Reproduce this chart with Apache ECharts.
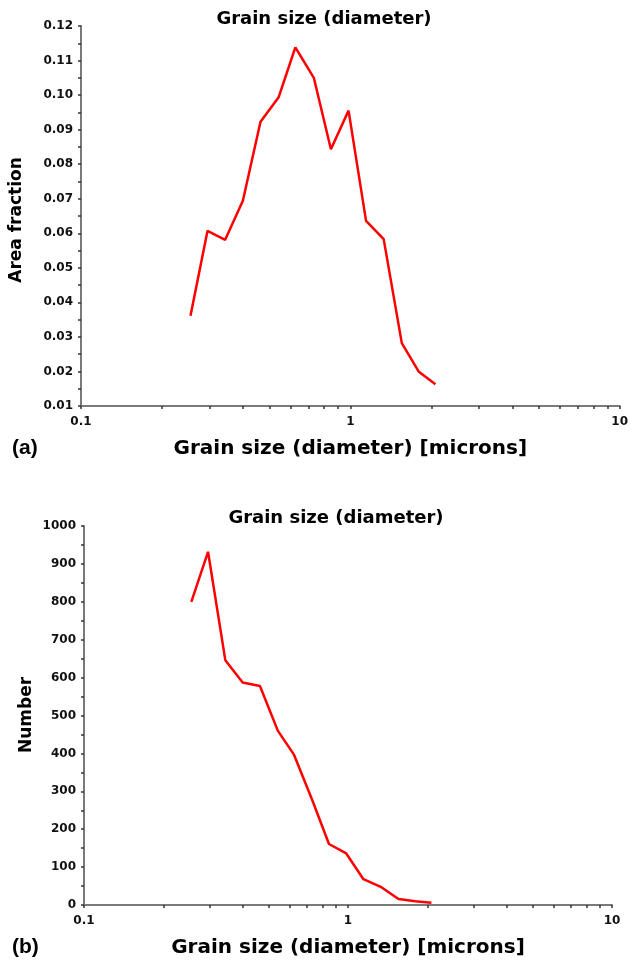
<!DOCTYPE html>
<html>
<head>
<meta charset="utf-8">
<script src="https://cdn.jsdelivr.net/npm/echarts@6/dist/echarts.min.js"></script>
<style>
  html, body { margin: 0; padding: 0; background: #fff; }
  #chart { width: 631px; height: 969px; }
</style>
</head>
<body>
<div id="chart"></div>
<script>
// grain size bins (microns), shared by both panels
const grainSize = [0.255, 0.295, 0.343, 0.399, 0.464, 0.542, 0.625, 0.732, 0.847, 0.985, 1.144, 1.33, 1.553, 1.797, 2.07];
// (a) area fraction
const areaFraction = [0.0361, 0.0607, 0.0581, 0.0694, 0.0923, 0.0994, 0.1138, 0.1050, 0.0843, 0.0955, 0.0636, 0.0583, 0.0282, 0.0199, 0.0163];
// (b) number of grains
const grainCount = [800, 932, 646, 587, 578, 460, 396, 277, 161, 136, 68, 48, 16, 10, 6];
// log axis ticks / labels
const xTickValues = [0.1, 0.2, 0.3, 0.4, 0.5, 0.6, 0.7, 0.8, 0.9, 1, 2, 3, 4, 5, 6, 7, 8, 9, 10];
const xLabelValues = [0.1, 1, 10];

const FONT = 'DejaVu Sans';
const chart = echarts.init(document.getElementById('chart'));

function xAxisCfg(gridIndex) {
    return {
        type: 'log',
        logBase: 10,
        gridIndex: gridIndex,
        min: 0.1,
        max: 10,
        axisLine: { lineStyle: { color: '#7a7a7a', width: 2 } },
        axisTick: { customValues: xTickValues, length: 3, lineStyle: { color: '#333', width: 1.5 } },
        axisLabel: {
            customValues: xLabelValues,
            color: '#111',
            fontFamily: FONT,
            fontSize: 12,
            fontWeight: 'bold',
            margin: 10,
            formatter: function (v) { return String(v); }
        },
        splitLine: { show: false },
        minorTick: { show: false },
        name: 'Grain size (diameter) [microns]',
        nameLocation: 'middle',
        nameGap: 43,
        nameTextStyle: { fontFamily: FONT, fontSize: 20, color: '#000', fontWeight: 'bold', verticalAlign: 'middle' }
    };
}

function yAxisCfg(gridIndex, min, max, interval, digits) {
    return {
        type: 'value',
        gridIndex: gridIndex,
        min: min,
        max: max,
        interval: interval,
        axisLine: { show: true, lineStyle: { color: '#7a7a7a', width: 2 } },
        axisTick: { show: true, length: 3, lineStyle: { color: '#333', width: 1.5 } },
        minorTick: { show: true, splitNumber: 2, length: 3, lineStyle: { color: '#333', width: 1.5 } },
        axisLabel: {
            color: '#111',
            fontFamily: FONT,
            fontSize: 12,
            fontWeight: 'bold',
            margin: 8,
            formatter: function (v) { return v.toFixed(digits); }
        },
        splitLine: { show: false }
    };
}

function label(text, x, y, size, rotated, family) {
    return {
        type: 'text',
        x: x,
        y: y,
        rotation: rotated ? Math.PI / 2 : 0,
        style: {
            text: text,
            fontFamily: family || FONT,
            fontSize: size,
            fontWeight: 'bold',
            fill: '#000',
            textAlign: family ? 'left' : 'center',
            textVerticalAlign: 'middle'
        }
    };
}

const option = {
    backgroundColor: '#fff',
    animation: false,
    grid: [
        { left: 81, right: 8, top: 26, bottom: 563 },
        { left: 84, right: 19, top: 526, bottom: 64 }
    ],
    xAxis: [xAxisCfg(0), xAxisCfg(1)],
    yAxis: [yAxisCfg(0, 0.01, 0.12, 0.01, 2), yAxisCfg(1, 0, 1000, 100, 0)],
    graphic: [
        label('Grain size (diameter)', 324, 19, 18),
        label('Grain size (diameter)', 336, 518, 18),
        label('Area fraction', 17, 220, 17, true),
        label('Number', 27, 715, 17, true),
        label('(a)', 12, 448, 21, false, 'Liberation Sans'),
        label('(b)', 12, 947, 21, false, 'Liberation Sans')
    ],
    series: [
        {
            type: 'line',
            xAxisIndex: 0,
            yAxisIndex: 0,
            data: grainSize.map(function (x, i) { return [x, areaFraction[i]]; }),
            showSymbol: false,
            lineStyle: { color: '#ff0000', width: 2.5 }
        },
        {
            type: 'line',
            xAxisIndex: 1,
            yAxisIndex: 1,
            data: grainSize.map(function (x, i) { return [x, grainCount[i]]; }),
            showSymbol: false,
            lineStyle: { color: '#ff0000', width: 2.5 }
        }
    ]
};

chart.setOption(option);
</script>
</body>
</html>
